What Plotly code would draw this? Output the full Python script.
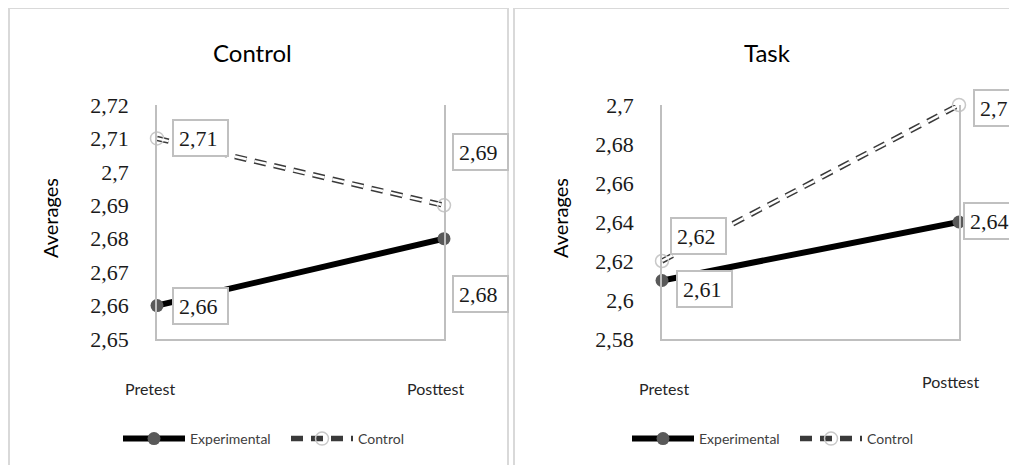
import plotly.graph_objects as go

# ---------------- data ----------------
categories = ["Pretest", "Posttest"]
series_names = ["Experimental", "Control"]
panel_titles = ["Control", "Task"]

control_experimental = [2.66, 2.68]
control_control = [2.71, 2.69]
task_experimental = [2.61, 2.64]
task_control = [2.62, 2.70]

control_tickvals = [2.65, 2.66, 2.67, 2.68, 2.69, 2.70, 2.71, 2.72]
control_ticktext = ["2,65", "2,66", "2,67", "2,68", "2,69", "2,7", "2,71", "2,72"]
task_tickvals = [2.58, 2.60, 2.62, 2.64, 2.66, 2.68, 2.70]
task_ticktext = ["2,58", "2,6", "2,62", "2,64", "2,66", "2,68", "2,7"]

# ---------------- layout helpers ----------------
OFF = 8  # page body margin
W, H = 1017 - 2 * OFF, 473 - 2 * OFF


def px(x):
    return (x - OFF) / W


def py(y):
    return 1 - (y - OFF) / H


def fmt(v):
    return f"{v:g}".replace(".", ",")


SERIF = "Liberation Serif, Times New Roman, serif"
SANS = "Lato, Open Sans, sans-serif"
GRID = "#bfbfbf"
DASH = "12px,8px"

fig = go.Figure()

panels = [
    dict(exp=control_experimental, ctl=control_control, xa="x", ya="y", legend="legend"),
    dict(exp=task_experimental, ctl=task_control, xa="x2", ya="y2", legend="legend2"),
]

for p in panels:
    fig.add_trace(go.Scatter(
        x=categories, y=p["exp"], name=series_names[0], mode="lines+markers",
        line=dict(color="black", width=6),
        marker=dict(symbol="circle", size=13, color="#595959"),
        xaxis=p["xa"], yaxis=p["ya"], legend=p["legend"], cliponaxis=False,
    ))
    fig.add_trace(go.Scatter(
        x=categories, y=p["ctl"], name=series_names[1], mode="lines+markers",
        line=dict(color="#3a3a3a", width=5.5, dash=DASH),
        marker=dict(symbol="circle-open", size=13, color="#c8c8c8", line=dict(width=1.5)),
        xaxis=p["xa"], yaxis=p["ya"], legend=p["legend"], cliponaxis=False,
    ))
    fig.add_trace(go.Scatter(
        x=categories, y=p["ctl"], name=series_names[1], mode="lines",
        line=dict(color="white", width=2.5, dash=DASH),
        xaxis=p["xa"], yaxis=p["ya"], showlegend=False, cliponaxis=False,
        hoverinfo="skip",
    ))

xaxis_common = dict(type="category", range=[0, 1], showline=True, linecolor=GRID,
                    linewidth=1.5, showgrid=False, zeroline=False, showticklabels=False,
                    ticks="", fixedrange=True, automargin=False)
yaxis_common = dict(showline=True, mirror=True, linecolor=GRID, linewidth=1.5,
                    showgrid=False, zeroline=False, ticks="outside", ticklen=22,
                    tickcolor="rgba(0,0,0,0)", automargin=False,
                    tickfont=dict(family=SERIF, size=22, color="#1a1a1a"), fixedrange=True)

legend_common = dict(orientation="h", yanchor="middle", xanchor="left",
                     font=dict(family=SANS, size=14, color="#404040"),
                     bgcolor="rgba(0,0,0,0)", itemwidth=62, entrywidth=91,
                     traceorder="normal")

fig.update_layout(
    width=W, height=H, autosize=False,
    margin=dict(l=0, r=0, t=0, b=0, pad=0, autoexpand=False),
    paper_bgcolor="white", plot_bgcolor="white",
    xaxis=dict(domain=[px(157), px(444)], anchor="y", **xaxis_common),
    yaxis=dict(domain=[py(339), py(105)], anchor="x", range=[2.65, 2.72],
               tickvals=control_tickvals, ticktext=control_ticktext, **yaxis_common),
    xaxis2=dict(domain=[px(662), px(959)], anchor="y2", **xaxis_common),
    yaxis2=dict(domain=[py(339), py(105)], anchor="x2", range=[2.58, 2.70],
                tickvals=task_tickvals, ticktext=task_ticktext, **yaxis_common),
    legend=dict(x=px(118), y=py(439), **legend_common),
    legend2=dict(x=px(627), y=py(439), **legend_common),
    showlegend=True,
)

# panel frames
for x0, x1 in [(9, 508), (514, 1040)]:
    fig.add_shape(type="rect", xref="paper", yref="paper",
                  x0=px(x0), x1=px(x1), y0=py(500), y1=py(8),
                  line=dict(color="#d9d9d9", width=2), fillcolor="rgba(0,0,0,0)",
                  layer="below")

annotations = []

# titles
for title, cx in zip(panel_titles, [252, 767]):
    annotations.append(dict(text=title, xref="paper", yref="paper", x=px(cx), y=py(53),
                            xanchor="center", yanchor="middle", showarrow=False,
                            font=dict(family=SANS, size=24, color="black")))

# y axis titles
for cx in [50, 560]:
    annotations.append(dict(text="Averages", xref="paper", yref="paper", x=px(cx), y=py(218),
                            xanchor="center", yanchor="middle", showarrow=False, textangle=-90,
                            font=dict(family=SANS, size=20, color="black")))

# x category labels
cat_label_pos = [
    ("x", [(-7, 388), (-9, 388)]),
    ("x2", [(2, 388), (-9, 381)]),
]
for xa, offs in cat_label_pos:
    for cat, (dx, cy) in zip(categories, offs):
        annotations.append(dict(text=cat, xref=xa, yref="paper", x=cat, y=py(cy),
                                xanchor="center", yanchor="middle", xshift=dx, showarrow=False,
                                font=dict(family=SANS, size=16, color="#262626")))

# data labels
label_offsets = [
    ("x", "y", control_experimental, [(15, 0), (8, -55)]),
    ("x", "y", control_control, [(15, 0), (8, 53)]),
    ("x2", "y2", task_experimental, [(14, -8), (4, 1)]),
    ("x2", "y2", task_control, [(8, 25), (14, -3)]),
]
for xa, ya, vals, offs in label_offsets:
    for cat, v, (dx, dy) in zip(categories, vals, offs):
        annotations.append(dict(text=fmt(v), xref=xa, yref=ya, x=cat, y=v,
                                xanchor="left", yanchor="middle", xshift=dx, yshift=dy,
                                width=43, height=24, align="left",
                                showarrow=False, bgcolor="white", bordercolor="#c0c0c0",
                                borderwidth=2, borderpad=5,
                                font=dict(family=SERIF, size=22, color="#1a1a1a")))

fig.update_layout(annotations=annotations)

fig.write_html("out.html")
